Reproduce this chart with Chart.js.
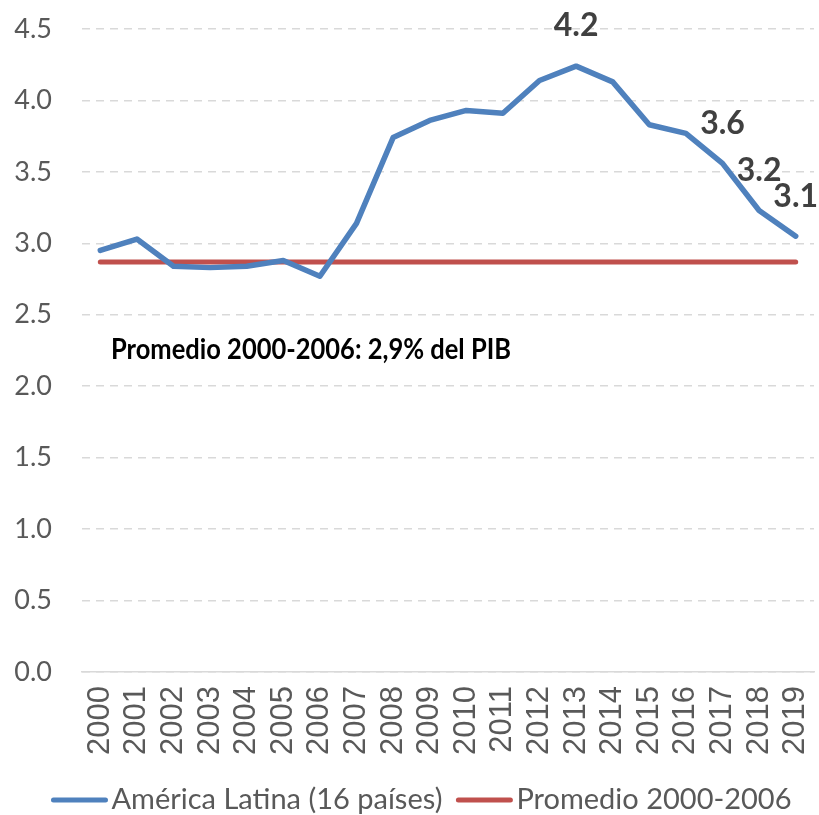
<!DOCTYPE html>
<html>
<head>
<meta charset="utf-8">
<script src="https://cdn.jsdelivr.net/npm/chart.js@4/dist/chart.umd.min.js"></script>
<style>
html,body{margin:0;padding:0;background:#fff;}
#wrap{width:819px;height:815px;position:relative;}
</style>
</head>
<body>
<div id="wrap"><canvas id="c"></canvas></div>
<script>
const years = ['2000','2001','2002','2003','2004','2005','2006','2007','2008','2009','2010','2011','2012','2013','2014','2015','2016','2017','2018','2019'];
const americaLatina = [2.95,3.03,2.84,2.83,2.84,2.88,2.77,3.14,3.74,3.86,3.93,3.91,4.14,4.24,4.13,3.83,3.77,3.56,3.23,3.05];
const promedio = [2.87,2.87,2.87,2.87,2.87,2.87,2.87,2.87,2.87,2.87,2.87,2.87,2.87,2.87,2.87,2.87,2.87,2.87,2.87,2.87];
const seriesNames = ['América Latina (16 países)','Promedio 2000-2006'];
const labelYears = ['2013','2017','2018','2019'];
const labelTexts = ['4.2','3.6','3.2','3.1'];
const annotationText = 'Promedio 2000-2006: 2,9% del PIB';
const annotationValue = 2.19;
const yTicks = [0,0.5,1.0,1.5,2.0,2.5,3.0,3.5,4.0,4.5];

const FONT = 'Lato, "Open Sans", sans-serif';
const NARROW = '"Liberation Sans Narrow", "Liberation Sans", sans-serif';
const BLUE = '#4f81bd', RED = '#c0504d';

const labelPlugin = {
  id:'valueLabels',
  afterDatasetsDraw(chart){
    const ctx = chart.ctx;
    const xs = chart.scales.x, ys = chart.scales.y;
    ctx.save();
    ctx.font = 'bold 32px ' + FONT;
    ctx.fillStyle = '#404040';
    ctx.textAlign = 'center';
    ctx.textBaseline = 'middle';
    labelYears.forEach((yr,i)=>{
      const idx = years.indexOf(yr);
      const x = xs.getPixelForValue(idx);
      const y = ys.getPixelForValue(americaLatina[idx]) - 40;
      ctx.fillText(labelTexts[i], x, y);
    });
    ctx.restore();
    // annotation
    ctx.save();
    ctx.font = 'bold 29px ' + FONT;
    ctx.fillStyle = '#000';
    ctx.textAlign = 'left';
    ctx.textBaseline = 'alphabetic';
    const w = ctx.measureText(annotationText).width;
    const targetW = 400;
    const ax = 111, ay = ys.getPixelForValue(annotationValue);
    ctx.translate(ax, ay);
    ctx.scale(targetW / w, 1);
    ctx.fillText(annotationText, 0, 0);
    ctx.restore();
  }
};

const legendPlugin = {
  id:'customLegend',
  afterDraw(chart){
    const ctx = chart.ctx;
    ctx.save();
    ctx.font = '29px ' + FONT;
    ctx.textBaseline = 'middle';
    ctx.textAlign = 'left';
    const colors = [BLUE, RED];
    const lineW = 56, gapText = 4, gapItem = 14;
    const widths = seriesNames.map(n=>ctx.measureText(n).width);
    const total = lineW*2 + gapText*2 + widths[0] + widths[1] + gapItem;
    let x = 421.5 - total/2;
    const y = 800;
    seriesNames.forEach((n,i)=>{
      ctx.strokeStyle = colors[i];
      ctx.lineWidth = 5;
      ctx.lineCap = 'round';
      ctx.beginPath();
      ctx.moveTo(x+2, y);
      ctx.lineTo(x+lineW-2, y);
      ctx.stroke();
      x += lineW + gapText;
      ctx.fillStyle = '#595959';
      ctx.fillText(n, x, y);
      x += widths[i] + gapItem;
    });
    ctx.restore();
  }
};

new Chart(document.getElementById('c'), {
  type:'line',
  data:{
    labels: years,
    datasets:[
      {label:seriesNames[0], data:americaLatina, borderColor:BLUE, backgroundColor:BLUE, borderWidth:5.5, pointRadius:0, tension:0, borderCapStyle:'round', borderJoinStyle:'round'},
      {label:seriesNames[1], data:promedio, borderColor:RED, backgroundColor:RED, borderWidth:5, pointRadius:0, tension:0, borderCapStyle:'round'}
    ]
  },
  options:{
    responsive:true,
    maintainAspectRatio:false,
    animation:false,
    layout:{padding:{top:29,right:5,left:0,bottom:45}},
    plugins:{
      legend:{display:false},
      tooltip:{enabled:false}
    },
    scales:{
      x:{
        offset:true,
        afterFit(scale){ scale.height = 98; scale.paddingLeft = 0; scale.paddingRight = 0; },
        grid:{display:false, drawTicks:false},
        border:{display:true, color:'#d9d9d9', width:1.5},
        ticks:{
          font:{family:NARROW,size:31},
          color:'#595959',
          maxRotation:90,
          minRotation:90,
          autoSkip:false,
          padding:14
        }
      },
      y:{
        min:0,max:4.5,
        afterBuildTicks(scale){ scale.ticks = yTicks.map(v=>({value:v})); },
        afterFit(scale){ scale.width = 82; scale.paddingTop = 0; scale.paddingBottom = 0; },
        grid:{
          color:'#d9d9d9',
          lineWidth:1.5,
          drawTicks:false
        },
        border:{display:false, dash:[8,6]},
        ticks:{
          font:{family:FONT,size:27},
          color:'#595959',
          padding:30,
          callback:(v)=>Number(v).toFixed(1)
        }
      }
    }
  },
  plugins:[labelPlugin, legendPlugin]
});
</script>
</body>
</html>
